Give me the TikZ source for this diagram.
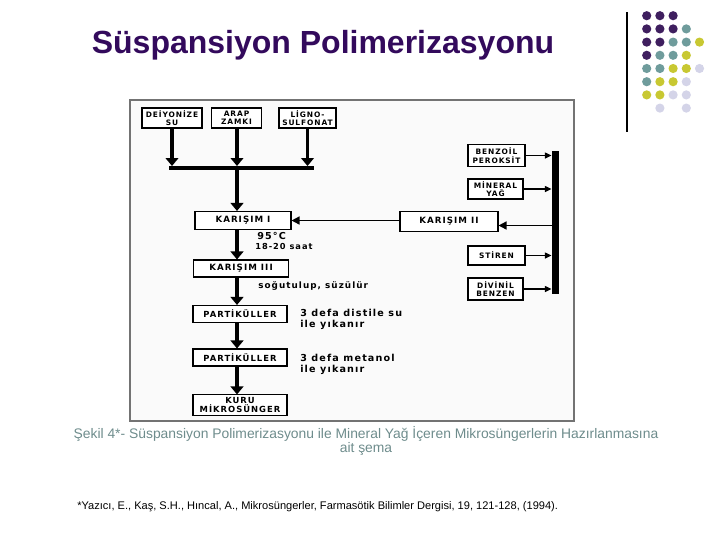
\documentclass[tikz,border=0pt]{standalone}
\usepackage{fontspec}
\setmainfont{Liberation Sans}
\newfontfamily\dgfont{DejaVu Sans}[LetterSpace=12]
\usetikzlibrary{arrows.meta,calc}
\definecolor{titlecol}{HTML}{330A5C}
\definecolor{capcol}{HTML}{6E8C8C}
\definecolor{dotP}{HTML}{3F1F5F}
\definecolor{dotT}{HTML}{6F9C9C}
\definecolor{dotY}{HTML}{C8C832}
\definecolor{dotL}{HTML}{D4D4E8}
\tikzset{
  bx/.style={draw, line width=0.8pt, fill=white, inner sep=0pt, align=center,
    font=\dgfont\bfseries\fontsize{5.6}{6.2}\selectfont},
  bigbx/.style={bx, font=\dgfont\bfseries\fontsize{6.5}{7}\selectfont},
  midbx/.style={bx, font=\dgfont\bfseries\fontsize{6.3}{6.8}\selectfont},
  note/.style={anchor=west, inner sep=0pt, font=\dgfont\bfseries\fontsize{7.2}{8}\selectfont},
  thick arrow/.style={line width=2.6pt, -{Triangle[width=9.5pt,length=6pt]}},
  thin arrow/.style={line width=0.9pt, -{Triangle[width=4.5pt,length=5pt]}},
  mid arrow/.style={line width=1.1pt, -{Triangle[width=6pt,length=6pt]}},
  dot/.style={circle, inner sep=0pt, minimum size=6.9pt}
}
\begin{document}
\begin{tikzpicture}[x=0.75pt,y=-0.75pt]
\useasboundingbox (0,0) rectangle (720,540);
% title
\node[anchor=base, text=titlecol, font=\bfseries\fontsize{24}{26}\selectfont] (title) at (323,53) {Süspansiyon Polimerizasyonu};
% decoration
\draw[line width=0.8pt] (627,12) coordinate (decA) -- (627,132) coordinate (decB);
\foreach \r/\row in {0/{P,P,P},1/{P,P,P,T},2/{P,P,T,T,Y},3/{P,T,T,Y},4/{T,T,Y,Y,L},5/{T,Y,Y,L},6/{Y,Y,L,L}}{
  \foreach \c [count=\i from 0] in \row {
    \node[dot, fill=dot\c] (d\r-\i) at ({646.7+13.2*\i},{15.7+13.2*\r}) {};
  }
}
\node[dot, fill=dotL] (d7-1) at ({646.7+13.2},{15.7+13.2*7}) {};
\node[dot, fill=dotL] (d7-3) at ({646.7+13.2*3},{15.7+13.2*7}) {};
% scanned frame
\draw[black!55, line width=0.8pt, fill=black!2] (130,100) coordinate (frA) rectangle (574,421) coordinate (frB);
% top boxes
\node[bx, minimum width=60*0.75pt, minimum height=20*0.75pt] (dsu) at (172,118) {DEİYONİZE\\SU};
\node[bx, minimum width=50*0.75pt, minimum height=20*0.75pt] (araf) at (236.5,118) {ARAP\\ZAMKI};
\node[bx, minimum width=57*0.75pt, minimum height=20*0.75pt] (ligno) at (307.5,118) {LİGNO-\\SULFONAT};
% collecting bar
\coordinate (barL) at (169,168);
\coordinate (barR) at (314,168);
\draw[line width=2.8pt] (barL) -- (barR);
\coordinate (col) at (237,0);
\draw[thick arrow] (dsu.south) -- (dsu.south |- 0,166);
\draw[thick arrow] (araf.south -| col) -- (col |- 0,166);
\draw[thick arrow] (ligno.south) -- (ligno.south |- 0,166);
% main column
\node[bigbx, minimum width=96*0.75pt, minimum height=18*0.75pt] (k1) at (243,220.5) {KARIŞIM I};
\node[bigbx, minimum width=95*0.75pt, minimum height=17*0.75pt] (k3) at (241,268.5) {KARIŞIM III};
\node[midbx, minimum width=94*0.75pt, minimum height=17*0.75pt] (p1) at (240,314) {PARTİKÜLLER};
\node[midbx, minimum width=94*0.75pt, minimum height=17*0.75pt] (p2) at (240,357.5) {PARTİKÜLLER};
\node[midbx, minimum width=94*0.75pt, minimum height=20.5*0.75pt] (kuru) at (240,405.2) {KURU\\MİKROSÜNGER};
\draw[thick arrow] (col |- barL) -- (k1.north -| col);
\draw[thick arrow] (k1.south -| col) -- (k3.north -| col);
\draw[thick arrow] (k3.south -| col) -- (p1.north -| col);
\draw[thick arrow] (p1.south -| col) -- (p2.north -| col);
\draw[thick arrow] (p2.south -| col) -- (kuru.north -| col);
% notes
\node[note] (n1) at (257,236) {95°C};
\node[note, font=\dgfont\bfseries\fontsize{6.2}{7}\selectfont] (n2) at (255,246) {18-20 saat};
\node[note, font=\dgfont\bfseries\fontsize{6.6}{7}\selectfont] (n3) at (258,286) {soğutulup, süzülür};
\node[note] (n4) at (300,313) {3 defa distile su};
\node[note] (n5) at (300,325) {ile yıkanır};
\node[note] (n6) at (300,358) {3 defa metanol};
\node[note] (n7) at (300,370) {ile yıkanır};
% right side
\node[bx, minimum width=57*0.75pt, minimum height=22*0.75pt] (bz) at (496.5,155.5) {BENZOİL\\PEROKSİT};
\node[bx, minimum width=55*0.75pt, minimum height=20*0.75pt] (mn) at (495.5,189) {MİNERAL\\YAĞ};
\node[bigbx, minimum width=98*0.75pt, minimum height=19.5*0.75pt] (k2) at (449,221.5) {KARIŞIM II};
\node[bx, minimum width=57*0.75pt, minimum height=19*0.75pt] (st) at (496.5,255.5) {STİREN};
\node[bx, minimum width=55*0.75pt, minimum height=22*0.75pt] (dv) at (495.5,289) {DİVİNİL\\BENZEN};
\node[fill=black, inner sep=0pt, minimum width=7*0.75pt, minimum height=143*0.75pt] (vbar) at (555.3,222) {};
\draw[thin arrow] (bz.east) -- (bz.east -| vbar.west);
\draw[thin arrow] (mn.east) -- (mn.east -| vbar.west);
\draw[thin arrow] (st.east) -- (st.east -| vbar.west);
\draw[thin arrow] (dv.east) -- (dv.east -| vbar.west);
\draw[mid arrow] (vbar.west |- 0,225.5) -- (k2.east |- 0,225.5);
\draw[mid arrow] (k2.west |- k1.east) -- (k1.east);
% caption
\node[text=capcol, align=center, font=\fontsize{10.4}{10}\selectfont, inner sep=0pt] (cap) at (366,441) {Şekil 4*- Süspansiyon Polimerizasyonu ile Mineral Yağ İçeren Mikrosüngerlerin Hazırlanmasına\\ait şema};
\node[anchor=west, inner sep=0pt, font=\fontsize{8.3}{9}\selectfont] (ref) at (77,507) {*Yazıcı, E., Kaş, S.H., Hıncal, A., Mikrosüngerler, Farmasötik Bilimler Dergisi, 19, 121-128, (1994).};
\end{tikzpicture}
\end{document}
